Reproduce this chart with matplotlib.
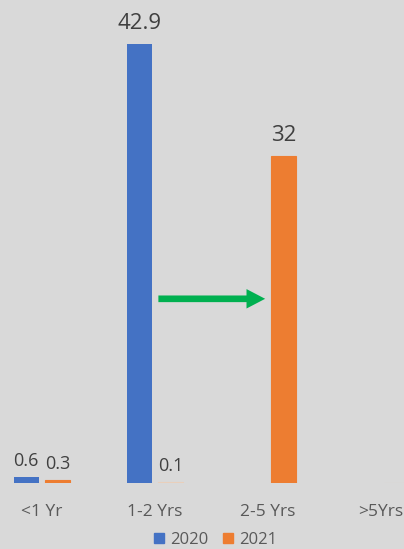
import numpy as np
import matplotlib.pyplot as plt
from matplotlib.patches import FancyArrow

plt.rcParams['font.family'] = ['Open Sans', 'DejaVu Sans']

categories = ['<1 Yr', '1-2 Yrs', '2-5 Yrs', '>5Yrs']
years = ['2020', '2021']
vals_2020 = [0.6, 42.9, 0, 0]
vals_2021 = [0.3, 0.1, 32, 0]

bg = '#D9D9D9'
blue = '#4472C4'
orange = '#ED7D31'
pale = '#E9CFBB'

fig = plt.figure(figsize=(4.04, 5.49), dpi=100, facecolor=bg)
ax = fig.add_axes([0, 66 / 549, 1, 483 / 549])
ax.set_facecolor(bg)

x = np.arange(len(categories))
w = 0.22
off = 0.14

b1 = ax.bar(x - off, vals_2020, w, color=blue, label=years[0])
cols_2021 = [orange if v >= 0.2 else pale for v in vals_2021]
b2 = ax.bar(x + off, vals_2021, w, color=cols_2021, edgecolor=cols_2021,
            linewidth=0.8, label=years[1])
b2.patches[0].set_edgecolor(orange)

# value labels (skip empty bars)
for bars, vals in ((b1, vals_2020), (b2, vals_2021)):
    for rect, v in zip(bars.patches, vals):
        if v == 0:
            continue
        big = v > 10
        ax.annotate(f'{v:g}', (rect.get_x() + rect.get_width() / 2, v),
                    xytext=(0, 7 if big else 5), textcoords='offset points',
                    ha='center', va='bottom', color='#404040',
                    fontsize=16 if big else 13)

# green arrow between the two tall bars
ax.add_patch(FancyArrow(1.03, 18.0, 0.78, 0, width=0.65, head_width=1.9,
                        head_length=0.165, length_includes_head=False,
                        color='#00B050', lw=0))

ax.set_xlim(-0.372, 3.204)
ax.set_ylim(0, 47.2)
ax.set_yticks([])
ax.set_xticks(x)
ax.set_xticklabels(categories, fontsize=12.5, color='#595959')
ax.tick_params(axis='x', length=0, pad=15)
for s in ax.spines.values():
    s.set_visible(False)

handles = [plt.Rectangle((0, 0), 1, 1, color=blue),
           plt.Rectangle((0, 0), 1, 1, color=orange)]
fig.legend(handles, years, loc='lower center', bbox_to_anchor=(0.533, -0.025),
           ncol=2, frameon=False, fontsize=12, handlelength=0.6,
           handleheight=0.6, handletextpad=0.35, columnspacing=0.9,
           labelcolor='#595959')

fig.savefig('out.png', dpi=100, facecolor=bg)
